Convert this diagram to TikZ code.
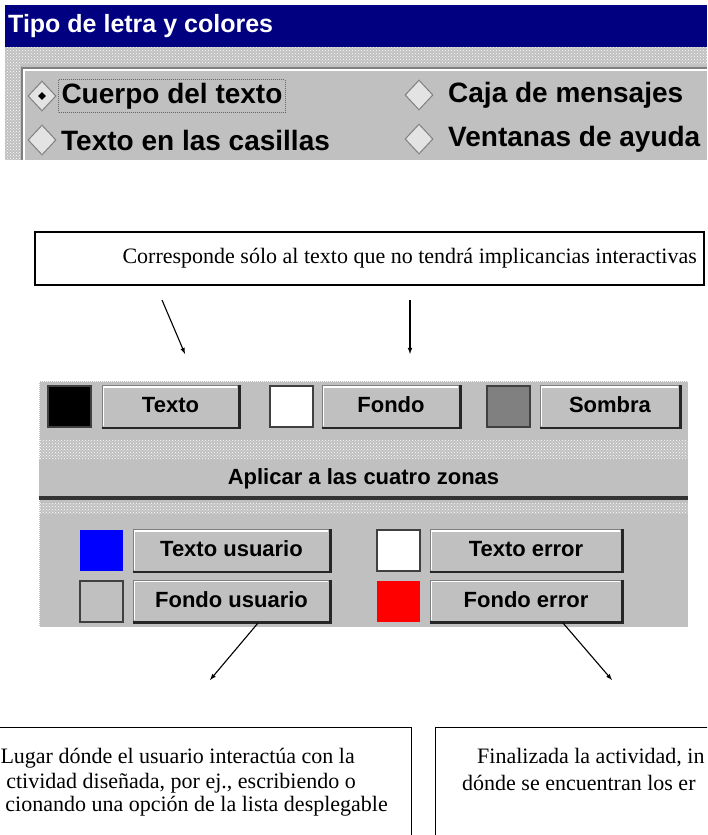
\documentclass[tikz,border=0pt]{standalone}
\usepackage{fontspec}
\setmainfont{Liberation Serif}
\newfontfamily\uisans{Liberation Sans}
\usetikzlibrary{arrows,shapes.geometric,patterns}
\definecolor{wingray}{RGB}{192,192,192}
\definecolor{winnavy}{RGB}{0,0,128}
\definecolor{winshade}{RGB}{128,128,128}
\tikzset{
  uitext/.style={font=\uisans\bfseries\fontsize{22}{26}\selectfont},
  radiotext/.style={font=\uisans\bfseries\fontsize{28}{32}\selectfont, anchor=west, inner sep=3pt},
  radio/.style={diamond, draw=winshade, fill=white!55!wingray, line width=1pt, minimum width=28pt, minimum height=30pt, inner sep=0pt},
  btn/.style={uitext, fill=wingray, draw=winshade, line width=0.8pt, inner sep=0pt, minimum height=42pt, text height=16pt, text depth=4pt},
  swatch/.style={draw=black!75, line width=2pt, minimum width=43pt, minimum height=41pt, inner sep=0pt},
  dotband/.style={pattern=crosshatch dots, pattern color=white},
  notebox/.style={draw, line width=1.3pt, fill=white},
  notetext/.style={font=\fontsize{22}{25}\selectfont, inner sep=0pt},
  flecha/.style={-latex, line width=1.1pt}
}

\begin{document}
\begin{tikzpicture}[x=1pt,y=-1pt]
\useasboundingbox (0,0) rectangle (707,835);
\clip (0,0) rectangle (707,835);
% ventana superior
\fill[winnavy] (5,5) rectangle (707,47);
\fill[wingray] (5,47) rectangle (707,160);
\fill[dotband] (5,47) rectangle (707,64);
\fill[dotband] (5,64) rectangle (20,160);
\draw[winshade, line width=1.5pt] (22,160) |- (707,68);
\draw[white, line width=1.5pt] (24,160) |- (707,70);
\node[anchor=west, text=white, inner sep=0pt, font=\uisans\bfseries\fontsize{25}{28}\selectfont] (titulo) at (8,26) {Tipo de letra y colores};
\node[radio] (r1) at (42,96) {};
\node[diamond, fill=black, minimum size=8pt, inner sep=0pt] (r1p) at (r1) {};
\node[radiotext, draw=black!60, densely dotted, line width=1pt] (l1) at (58,96) {Cuerpo del texto};
\node[radio] (r2) at (42,140) {};
\node[radiotext] (l2) at (58,140) {Texto en las casillas};
\node[radio] (r3) at (419,95) {};
\node[radiotext] (l3) at (445,95) {Caja de mensajes};
\node[radio] (r4) at (419,139) {};
\node[radiotext] (l4) at (445,139) {Ventanas de ayuda};

% nota superior
\node[notebox, minimum width=669pt, minimum height=53pt] (nota) at (369.5,258.5) {};
\node[notetext, anchor=east] (notaTxt) at (697,258) {Corresponde sólo al texto que no tendrá implicancias interactivas};
\coordinate (a1s) at (162,300);
\coordinate (a1e) at (185,354);
\coordinate (a2s) at (410,300);
\coordinate (a2e) at (410,354);
\draw[flecha] (a1s) -- (a1e);
\draw[flecha] (a2s) -- (a2e);

% panel de colores
\fill[wingray] (39,381) rectangle (688,627);
\draw[white, densely dotted, line width=1pt] (39,627) |- (688,381);
\fill[dotband] (39,440) rectangle (688,458);
\fill[dotband] (39,503) rectangle (688,513);
\node[swatch, fill=black] (c1) at (69.5,406.5) {};
\node[btn, minimum width=137pt] (bTexto) at (170.5,406.5) {Texto};
\node[swatch, fill=white] (c2) at (291,406.5) {};
\node[btn, minimum width=138pt] (bFondo) at (391,406.5) {Fondo};
\node[swatch, fill=winshade] (c3) at (508.5,406.5) {};
\node[btn, minimum width=140pt] (bSombra) at (610,406.5) {Sombra};
\node[btn, draw=none, minimum width=649pt, minimum height=39pt] (bAplicar) at (363.5,478) {Aplicar a las cuatro zonas};
\draw[black!80, line width=4pt] (bAplicar.south west) -- (bAplicar.south east);
\node[swatch, draw=none, fill=blue] (c4) at (101,550.5) {};
\node[btn, minimum width=197pt] (bTextoU) at (231.5,550.5) {Texto usuario};
\node[swatch, fill=white] (c5) at (398.5,550.5) {};
\node[btn, minimum width=192pt] (bTextoE) at (526,550.5) {Texto error};
\node[swatch, fill=wingray] (c6) at (101,601) {};
\node[btn, minimum width=197pt] (bFondoU) at (231.5,601) {Fondo usuario};
\node[swatch, draw=none, fill=red] (c7) at (398.5,601) {};
\node[btn, minimum width=192pt] (bFondoE) at (526,601) {Fondo error};
\foreach \b in {bTexto,bFondo,bSombra,bTextoU,bTextoE,bFondoU,bFondoE}{
  \draw[white, line width=1.5pt] ([shift={(2,-2)}]\b.south west) |- ([shift={(-2,2)}]\b.north east);
  \draw[black!85, line width=2.5pt] (\b.south west) -| (\b.north east);
}

% notas inferiores
\coordinate (a3s) at (258,623);
\coordinate (a3e) at (210,680);
\coordinate (a4s) at (563,623);
\coordinate (a4e) at (612,680);
\draw[flecha] (a3s) -- (a3e);
\draw[flecha] (a4s) -- (a4e);
\node[notebox, minimum width=500pt, minimum height=140pt, anchor=north east] (cajaIzq) at (412,727) {};
\node[notebox, minimum width=300pt, minimum height=140pt, anchor=north west] (cajaDer) at (435,727) {};
\node[notetext, anchor=east] (t1) at (355,758) {Lugar dónde el usuario interactúa con la};
\node[notetext, anchor=east] (t2) at (356,783) {ctividad diseñada, por ej., escribiendo o};
\node[notetext, anchor=east] (t3) at (388,806) {cionando una opción de la lista desplegable};
\node[notetext, anchor=west] (t4) at (477,758) {Finalizada la actividad, in};
\node[notetext, anchor=west] (t5) at (462,783) {dónde se encuentran los er};
\end{tikzpicture}
\end{document}
